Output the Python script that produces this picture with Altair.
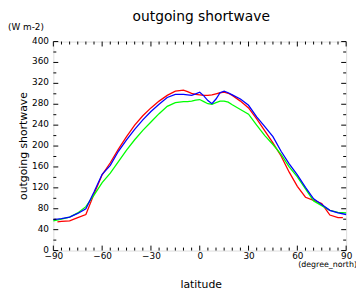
import altair as alt
import pandas as pd

# latitude grid (degree_north)
lats = [-90, -85, -80, -75, -70, -65, -60, -55, -50, -45, -40, -35, -30, -25, -20, -15,
        -10, -7.5, -5, -2.5, 0, 2.5, 5, 7.5, 10, 12.5, 15, 17.5, 20,
        25, 30, 35, 40, 45, 50, 55, 60, 65, 70, 75, 80, 85, 90]
red_lats = [-87.5] + lats[1:-1] + [88]

red = [55, 56, 57, 63, 69, 108, 145, 168, 194, 218, 240, 258, 273, 286, 297, 305,
       307, 304, 301, 299, 298, 297, 297, 298, 300, 302, 303, 301, 297,
       286, 273, 252, 229, 206, 181, 150, 123, 102, 96, 90, 68, 63, 63]
blue = [59, 61, 64, 71, 80, 112, 146, 163, 190, 212, 232, 250, 266, 280, 293, 299,
        299, 298, 297, 300, 303, 296, 287, 281, 290, 302, 305, 302, 298,
        290, 278, 256, 237, 218, 190, 166, 145, 121, 99, 88, 77, 72, 69]
green = [57, 60, 64, 72, 84, 106, 130, 148, 170, 192, 212, 230, 246, 262, 276, 283,
         285, 285, 286, 288, 289, 285, 281, 280, 283, 286, 286, 284, 279,
         270, 261, 240, 220, 203, 184, 160, 141, 118, 95, 86, 77, 73, 72]

x_major = [-90, -60, -30, 0, 30, 60, 90]
x_minor = [v for v in range(-85, 90, 5) if v % 30 != 0]
y_major = [0, 40, 80, 120, 160, 200, 240, 280, 320, 360, 400]
y_minor = [20, 60, 100, 140, 180, 220, 260, 300, 340, 380]

W, H = 297, 212
FONT = "DejaVu Sans"

xs = alt.Scale(domain=[-90, 90], nice=False, zero=False)
ys = alt.Scale(domain=[0, 400], nice=False, zero=False)

x_axis = alt.Axis(values=x_major, ticks=False, domain=False, grid=False, title=None,
                  labelFont=FONT, labelFontSize=9, labelColor="black", labelPadding=1,
                  labelFlush=False)
y_axis = alt.Axis(values=y_major, ticks=False, domain=False, grid=False, title=None,
                  labelFont=FONT, labelFontSize=9, labelColor="black", labelPadding=5,
                  labelOffset=-1.5)

XF = lambda f: alt.X(f, scale=xs, axis=x_axis)
YF = lambda f: alt.Y(f, scale=ys, axis=y_axis)


def line(lat, vals, color):
    df = pd.DataFrame({"lat": lat, "v": vals})
    return alt.Chart(df).mark_line(color=color, strokeWidth=1.3).encode(
        x=XF("lat:Q"), y=YF("v:Q"))


def xticks(vals, length):
    df = pd.DataFrame({"t": vals})
    base = alt.Chart(df).mark_rule(color="black", strokeWidth=1)
    bot = base.encode(x=XF("t:Q"), y=alt.value(H), y2=alt.value(H - length))
    top = base.encode(x=XF("t:Q"), y=alt.value(0), y2=alt.value(length))
    return [bot, top]


def yticks(vals, length):
    df = pd.DataFrame({"t": vals})
    base = alt.Chart(df).mark_rule(color="black", strokeWidth=1)
    left = base.encode(y=YF("t:Q"), x=alt.value(0), x2=alt.value(length))
    right = base.encode(y=YF("t:Q"), x=alt.value(W), x2=alt.value(W - length))
    return [left, right]


def label(text, x, y, size, angle=0, align="center"):
    df = pd.DataFrame({"s": [text]})
    return alt.Chart(df).mark_text(font=FONT, fontSize=size, color="black", angle=angle,
                                   align=align, baseline="alphabetic").encode(
        text="s:N", x=alt.value(x), y=alt.value(y))


layers = [
    line(red_lats, red, "#ff0000"),
    line(lats, green, "#00ff00"),
    line(lats, blue, "#0000ff"),
]
layers += xticks(x_major, 5) + xticks(x_minor, 3) + yticks(y_major, 5) + yticks(y_minor, 3)
layers += [
    label("outgoing shortwave", 150, -21, 14),
    label("(W m-2)", -46, -12, 9, align="left"),
    label("outgoing shortwave", -27, 106, 11, angle=270),
    label("latitude", 150, 250, 11),
    label("(degree_north)", 308, 229, 8, align="right"),
]

chart = alt.layer(*layers).properties(
    width=W, height=H,
    autosize=alt.AutoSizeParams(type="none"),
    padding={"left": 46, "top": 32, "right": 10, "bottom": 39},
).configure_view(stroke="black", strokeWidth=1.5).configure(background="white")

chart.save("out.html", embed_options={"renderer": "svg", "actions": False})
